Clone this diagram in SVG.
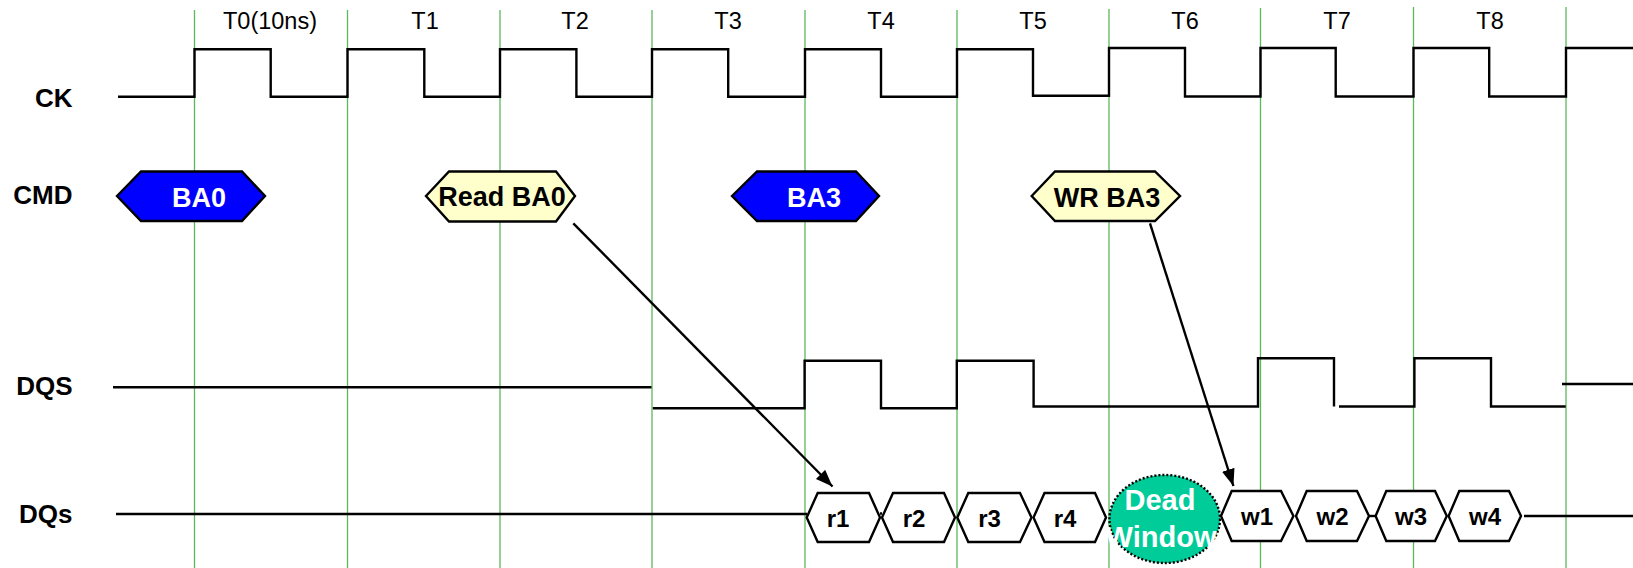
<svg xmlns="http://www.w3.org/2000/svg" width="1633" height="568" viewBox="0 0 1633 568">
<defs>
<style>
.grid{stroke:#5cb85c;stroke-width:1.3;fill:none}
.sig{stroke:#000;stroke-width:2.4;fill:none}
.lbl{font-family:"Liberation Sans",Arial,sans-serif;font-weight:bold;font-size:26px;fill:#000;text-anchor:end}
.tl{font-family:"Liberation Sans",Arial,sans-serif;font-size:23.5px;fill:#000;text-anchor:middle}
.hx{stroke:#000;stroke-width:2.4}
.blue{fill:#0000ff}
.yel{fill:#ffffcc}
.dat{fill:#ffffff}
.ct{font-family:"Liberation Sans",Arial,sans-serif;font-weight:bold;font-size:27px;text-anchor:middle}
.dt{font-family:"Liberation Sans",Arial,sans-serif;font-weight:bold;font-size:24px;text-anchor:middle;fill:#000}
.dw{font-family:"Liberation Sans",Arial,sans-serif;font-weight:bold;font-size:29px;fill:#fff;text-anchor:middle}
.arr{stroke:#000;stroke-width:2.4;fill:none;marker-end:url(#ah)}
</style>
<marker id="ah" markerUnits="userSpaceOnUse" markerWidth="20" markerHeight="14" refX="17" refY="6.5" orient="auto">
<path d="M0,0 L17,6.5 L0,13 z" fill="#000"/>
</marker>
</defs>
<rect width="1633" height="568" fill="#fff"/>
<g id="grid">
<line class="grid" x1="194.5" y1="10" x2="194.5" y2="568"/>
<line class="grid" x1="347.5" y1="10" x2="347.5" y2="568"/>
<line class="grid" x1="500" y1="10" x2="500" y2="568"/>
<line class="grid" x1="652" y1="10" x2="652" y2="568"/>
<line class="grid" x1="805" y1="10" x2="805" y2="568"/>
<line class="grid" x1="957" y1="10" x2="957" y2="568"/>
<line class="grid" x1="1109" y1="9" x2="1109" y2="568"/>
<line class="grid" x1="1260.5" y1="8" x2="1260.5" y2="568"/>
<line class="grid" x1="1413.5" y1="7" x2="1413.5" y2="568"/>
<line class="grid" x1="1566" y1="7" x2="1566" y2="568"/>
</g>
<g id="time-labels">
<text class="tl" x="270" y="28.5">T0(10ns)</text>
<text class="tl" x="425" y="28.5">T1</text>
<text class="tl" x="575" y="28.5">T2</text>
<text class="tl" x="728" y="28.5">T3</text>
<text class="tl" x="881" y="28.5">T4</text>
<text class="tl" x="1033" y="28.5">T5</text>
<text class="tl" x="1185" y="28.5">T6</text>
<text class="tl" x="1337" y="28.5">T7</text>
<text class="tl" x="1490" y="28.5">T8</text>
</g>
<g id="signal-labels">
<text class="lbl" x="72.5" y="107">CK</text>
<text class="lbl" x="72.5" y="204">CMD</text>
<text class="lbl" x="72.5" y="394.5">DQS</text>
<text class="lbl" x="72.5" y="523">DQs</text>
</g>
<g id="ck">
<path class="sig" d="M118,96.7 H194.5 V49.3 H270.7 V96.7 H347.5 V49.3 H424.3 V96.7 H500 V49.3 H576.4 V96.7 H652 V49.3 H728.2 V96.7 H805 V49.3 H881 V96.7 H957 V49.3 H1033 V95.7 H1109 V48 H1185 V96.5 H1260.5 V48 H1335.7 V96.5 H1413.5 V48 H1489.2 V96.5 H1566 V48 H1633"/>
</g>
<g id="dqs">
<path class="sig" d="M113,387.3 H651.5"/>
<path class="sig" d="M652.8,408.3 H804.6 V360.7 H881 V408.3 H956.8 V360.7 H1033.6 V406.5 H1258 V358.3 H1334 V406.5"/>
<path class="sig" d="M1339,406.5 H1414.4 V358.3 H1491 V406.5 H1565.7"/>
<path class="sig" d="M1562,384 H1633"/>
</g>
<g id="dqs-line">
<path class="sig" d="M116,514 H807"/>
<path class="sig" d="M880,513.5 H882"/>
<path class="sig" d="M1369,516 H1376"/>
<path class="sig" d="M1524,516 H1633"/>
</g>
<g id="cmd-ba0">
<polygon class="hx blue" points="117,196 141,171.5 242,171.5 265,196 242,221 141,221"/>
<text class="ct" x="199" y="206.5" fill="#fff">BA0</text>
</g>
<g id="cmd-read-ba0">
<polygon class="hx yel" points="426,196 449,171.5 556,171.5 575,196 556,221.5 449,221.5"/>
<text class="ct" x="502" y="205.5" fill="#000">Read BA0</text>
</g>
<g id="cmd-ba3">
<polygon class="hx blue" points="732,196 757,171.5 856,171.5 879,196 856,221 757,221"/>
<text class="ct" x="814" y="206.5" fill="#fff">BA3</text>
</g>
<g id="cmd-wr-ba3">
<polygon class="hx yel" points="1031.7,196 1055,171.5 1155,171.5 1180,196 1155,221 1055,221"/>
<text class="ct" x="1107" y="206.5" fill="#000">WR BA3</text>
</g>
<g id="r1">
<polygon class="hx dat" points="806.7,517.5 817.7,493 869,493 880,517.5 869,542 817.7,542"/>
<text class="dt" x="838" y="526.7">r1</text>
</g>
<g id="r2">
<polygon class="hx dat" points="882,517.5 893,493 944,493 955,517.5 944,542 893,542"/>
<text class="dt" x="914" y="526.7">r2</text>
</g>
<g id="r3">
<polygon class="hx dat" points="957.3,517.5 968.3,493 1020,493 1031.5,517.5 1020,542 968.3,542"/>
<text class="dt" x="989.5" y="526.7">r3</text>
</g>
<g id="r4">
<polygon class="hx dat" points="1033.5,517.5 1044.5,493 1095,493 1106,517.5 1095,542 1044.5,542"/>
<text class="dt" x="1065" y="526.7">r4</text>
</g>
<g id="dead-window">
<ellipse cx="1164.7" cy="519" rx="55.3" ry="44" fill="#00cc99" stroke="#000" stroke-width="2.4" stroke-dasharray="2,2"/>
<text class="dw" x="1160" y="510">Dead</text>
<text class="dw" x="1161" y="547">Window</text>
</g>
<g id="w1">
<polygon class="hx dat" points="1221,516 1231.7,491 1281,491 1293.4,516 1281,541 1231.7,541"/>
<text class="dt" x="1257" y="525">w1</text>
</g>
<g id="w2">
<polygon class="hx dat" points="1296,516 1306.7,491 1357,491 1369,516 1357,541 1306.7,541"/>
<text class="dt" x="1332.5" y="525">w2</text>
</g>
<g id="w3">
<polygon class="hx dat" points="1375.6,516 1386.3,491 1435,491 1446.8,516 1435,541 1386.3,541"/>
<text class="dt" x="1411" y="525">w3</text>
</g>
<g id="w4">
<polygon class="hx dat" points="1448.6,516 1459.3,491 1509,491 1521,516 1509,541 1459.3,541"/>
<text class="dt" x="1485" y="525">w4</text>
</g>
<g id="connectors">
<line class="arr" x1="573.3" y1="223.3" x2="832.5" y2="486.5"/>
<line class="arr" x1="1150" y1="223.3" x2="1233.4" y2="486"/>
</g>
</svg>
